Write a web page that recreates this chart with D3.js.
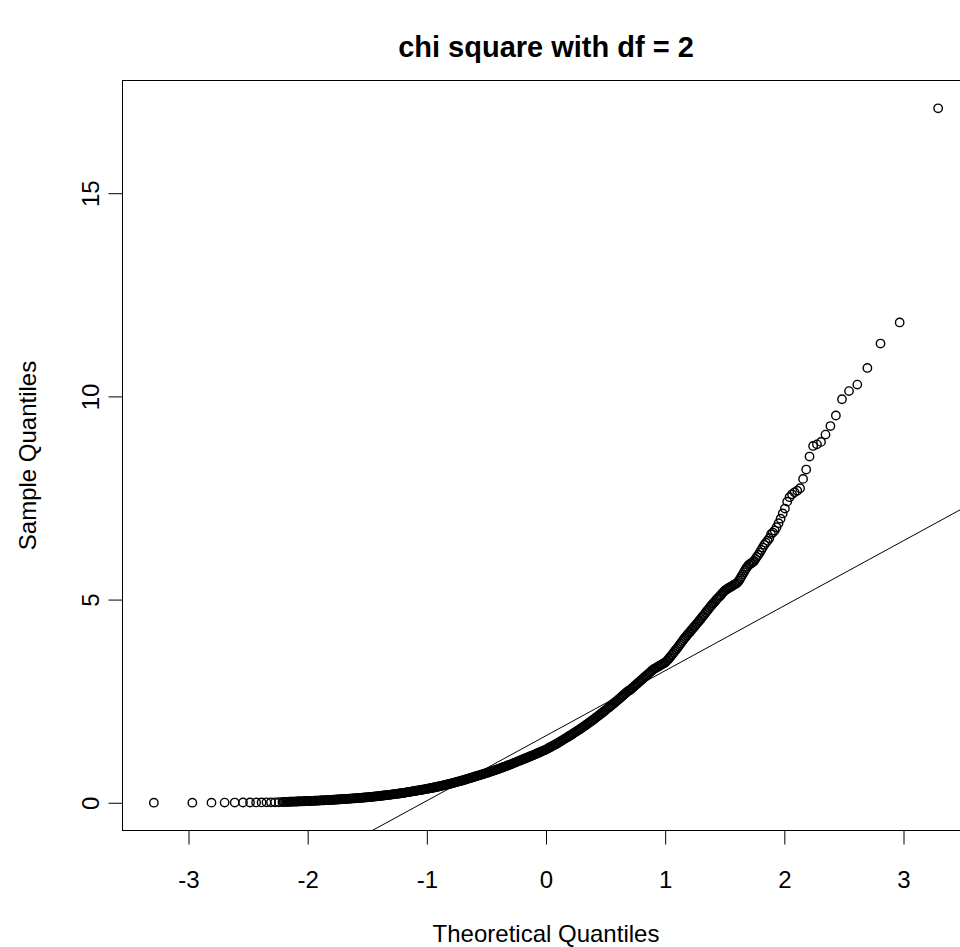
<!DOCTYPE html>
<html>
<head>
<meta charset="utf-8">
<script src="https://cdnjs.cloudflare.com/ajax/libs/d3/7.8.5/d3.min.js"></script>
<style>
  body { margin: 0; background: #fff; }
  svg { display: block; font-family: "Liberation Sans", Arial, sans-serif; }
</style>
</head>
<body>
<div id="chart"></div>
<script>
// theoretical / sample quantiles
// lower tail: separate circles sitting on zero
const lowTheo = [-3.2905, -2.9677, -2.8070, -2.6968, -2.6121, -2.5427, -2.4837, -2.4324, -2.3867, -2.3455, -2.3079, -2.2734, -2.2414, -2.2115];
const lowSample = [0.001, 0.002, 0.003, 0.004, 0.005, 0.006, 0.007, 0.008, 0.009, 0.010, 0.011, 0.012, 0.013, 0.015];

// body of the sample: the dense black band
const bandTheo = [
  -2.20,-2.19,-2.18,-2.17,-2.16,-2.15,-2.14,-2.13,-2.12,-2.11,
  -2.10,-2.09,-2.08,-2.07,-2.06,-2.05,-2.04,-2.03,-2.02,-2.01,
  -2.00,-1.99,-1.98,-1.97,-1.96,-1.95,-1.94,-1.93,-1.92,-1.91,
  -1.90,-1.89,-1.88,-1.87,-1.86,-1.85,-1.84,-1.83,-1.82,-1.81,
  -1.80,-1.79,-1.78,-1.77,-1.76,-1.75,-1.74,-1.73,-1.72,-1.71,
  -1.70,-1.69,-1.68,-1.67,-1.66,-1.65,-1.64,-1.63,-1.62,-1.61,
  -1.60,-1.59,-1.58,-1.57,-1.56,-1.55,-1.54,-1.53,-1.52,-1.51,
  -1.50,-1.49,-1.48,-1.47,-1.46,-1.45,-1.44,-1.43,-1.42,-1.41,
  -1.40,-1.39,-1.38,-1.37,-1.36,-1.35,-1.34,-1.33,-1.32,-1.31,
  -1.30,-1.29,-1.28,-1.27,-1.26,-1.25,-1.24,-1.23,-1.22,-1.21,
  -1.20,-1.19,-1.18,-1.17,-1.16,-1.15,-1.14,-1.13,-1.12,-1.11,
  -1.10,-1.09,-1.08,-1.07,-1.06,-1.05,-1.04,-1.03,-1.02,-1.01,
  -1.00,-0.99,-0.98,-0.97,-0.96,-0.95,-0.94,-0.93,-0.92,-0.91,
  -0.90,-0.89,-0.88,-0.87,-0.86,-0.85,-0.84,-0.83,-0.82,-0.81,
  -0.80,-0.79,-0.78,-0.77,-0.76,-0.75,-0.74,-0.73,-0.72,-0.71,
  -0.70,-0.69,-0.68,-0.67,-0.66,-0.65,-0.64,-0.63,-0.62,-0.61,
  -0.60,-0.59,-0.58,-0.57,-0.56,-0.55,-0.54,-0.53,-0.52,-0.51,
  -0.50,-0.49,-0.48,-0.47,-0.46,-0.45,-0.44,-0.43,-0.42,-0.41,
  -0.40,-0.39,-0.38,-0.37,-0.36,-0.35,-0.34,-0.33,-0.32,-0.31,
  -0.30,-0.29,-0.28,-0.27,-0.26,-0.25,-0.24,-0.23,-0.22,-0.21,
  -0.20,-0.19,-0.18,-0.17,-0.16,-0.15,-0.14,-0.13,-0.12,-0.11,
  -0.10,-0.09,-0.08,-0.07,-0.06,-0.05,-0.04,-0.03,-0.02,-0.01,
  0.00,0.01,0.02,0.03,0.04,0.05,0.06,0.07,0.08,0.09,
  0.10,0.11,0.12,0.13,0.14,0.15,0.16,0.17,0.18,0.19,
  0.20,0.21,0.22,0.23,0.24,0.25,0.26,0.27,0.28,0.29,
  0.30,0.31,0.32,0.33,0.34,0.35,0.36,0.37,0.38,0.39,
  0.40,0.41,0.42,0.43,0.44,0.45,0.46,0.47,0.48,0.49,
  0.50,0.51,0.52,0.53,0.54,0.55,0.56,0.57,0.58,0.59,
  0.60,0.61,0.62,0.63,0.64,0.65,0.66,0.67,0.68,0.69,
  0.70,0.71,0.72,0.73,0.74,0.75,0.76,0.77,0.78,0.79,
  0.80,0.81,0.82,0.83,0.84,0.85,0.86,0.87,0.88,0.89,
  0.90,0.91,0.92,0.93,0.94,0.95,0.96,0.97,0.98,0.99,
  1.00,1.01,1.02,1.03,1.04,1.05,1.06,1.07,1.08,1.09,
  1.10,1.11,1.12,1.13,1.14,1.15,1.16,1.17,1.18,1.19,
  1.20,1.21,1.22,1.23,1.24,1.25,1.26,1.27,1.28,1.29,
  1.30,1.31,1.32,1.33,1.34,1.35,1.36,1.37,1.38,1.39,
  1.40,1.41,1.42,1.43,1.44,1.45,1.46,1.47,1.48,1.49,
  1.50,1.51,1.52,1.53,1.54,1.55,1.56,1.57,1.58,1.59,
  1.60,1.61,1.62,1.63,1.64,1.65,1.66,1.67,1.68,1.69,
  1.70,1.71,1.72,1.73,1.74
];
const bandSample = [
  0.020,0.021,0.022,0.023,0.024,0.025,0.026,0.027,0.028,0.029,
  0.030,0.031,0.032,0.033,0.034,0.035,0.036,0.037,0.038,0.039,
  0.040,0.042,0.043,0.045,0.046,0.048,0.049,0.051,0.052,0.054,
  0.055,0.057,0.058,0.060,0.061,0.063,0.064,0.066,0.067,0.069,
  0.070,0.072,0.074,0.076,0.078,0.080,0.082,0.084,0.086,0.088,
  0.090,0.092,0.094,0.096,0.098,0.100,0.102,0.104,0.106,0.108,
  0.110,0.112,0.115,0.117,0.120,0.122,0.125,0.127,0.130,0.132,
  0.135,0.138,0.141,0.144,0.147,0.150,0.153,0.156,0.159,0.162,
  0.165,0.168,0.172,0.175,0.179,0.182,0.186,0.189,0.193,0.196,
  0.200,0.204,0.208,0.212,0.216,0.220,0.224,0.228,0.232,0.236,
  0.240,0.245,0.250,0.255,0.260,0.265,0.270,0.275,0.280,0.285,
  0.290,0.295,0.300,0.305,0.310,0.315,0.320,0.325,0.330,0.335,
  0.340,0.346,0.352,0.358,0.364,0.370,0.376,0.382,0.388,0.394,
  0.400,0.407,0.414,0.421,0.428,0.435,0.442,0.449,0.456,0.463,
  0.470,0.478,0.486,0.494,0.502,0.510,0.518,0.526,0.534,0.542,
  0.550,0.559,0.568,0.577,0.586,0.595,0.604,0.613,0.622,0.631,
  0.640,0.649,0.658,0.667,0.676,0.685,0.694,0.703,0.712,0.721,
  0.730,0.740,0.750,0.760,0.770,0.780,0.790,0.800,0.810,0.820,
  0.830,0.841,0.852,0.863,0.874,0.885,0.896,0.907,0.918,0.929,
  0.940,0.952,0.964,0.976,0.988,1.000,1.012,1.024,1.036,1.048,
  1.060,1.072,1.084,1.096,1.108,1.120,1.132,1.144,1.156,1.168,
  1.180,1.193,1.206,1.219,1.232,1.245,1.258,1.271,1.284,1.297,
  1.310,1.326,1.342,1.358,1.374,1.390,1.406,1.422,1.438,1.454,
  1.470,1.488,1.506,1.524,1.542,1.560,1.578,1.596,1.614,1.632,
  1.650,1.669,1.688,1.707,1.726,1.745,1.764,1.783,1.802,1.821,
  1.840,1.861,1.882,1.903,1.924,1.945,1.966,1.987,2.008,2.029,
  2.050,2.073,2.096,2.119,2.142,2.165,2.188,2.211,2.234,2.257,
  2.280,2.304,2.328,2.352,2.376,2.400,2.424,2.448,2.472,2.496,
  2.520,2.546,2.572,2.598,2.624,2.650,2.676,2.702,2.728,2.754,
  2.760,2.786,2.812,2.838,2.864,2.890,2.916,2.942,2.968,2.994,
  3.020,3.046,3.072,3.098,3.124,3.150,3.176,3.202,3.228,3.254,
  3.280,3.297,3.314,3.331,3.348,3.365,3.382,3.400,3.420,3.435,
  3.450,3.480,3.510,3.545,3.580,3.615,3.650,3.690,3.730,3.765,
  3.800,3.840,3.880,3.920,3.960,4.000,4.040,4.075,4.110,4.145,
  4.180,4.210,4.250,4.280,4.320,4.350,4.390,4.420,4.460,4.490,
  4.530,4.570,4.600,4.640,4.680,4.720,4.750,4.790,4.830,4.860,
  4.900,4.930,4.960,5.000,5.030,5.060,5.090,5.120,5.160,5.190,
  5.220,5.240,5.260,5.280,5.300,5.310,5.330,5.350,5.370,5.380,
  5.400,5.430,5.470,5.520,5.570,5.620,5.670,5.720,5.770,5.810,
  5.850,5.870,5.890,5.910,5.930
];

// upper tail: the loose circles climbing to the top right
const highTheo = [1.7457, 1.7572, 1.7690, 1.7810, 1.7934, 1.8059, 1.8188, 1.8320, 1.8455, 1.8594,
  1.8737, 1.8883, 1.9034, 1.9190, 1.9350, 1.9515, 1.9686, 1.9863, 2.0047, 2.0237,
  2.0435, 2.0642, 2.0858, 2.1084, 2.1321, 2.1571, 2.1835, 2.2115, 2.2414, 2.2734,
  2.3079, 2.3455, 2.3867, 2.4324, 2.4837, 2.5427, 2.6121, 2.6968, 2.8070, 2.9677, 3.2905];
const highSample = [5.95, 6.00, 6.05, 6.10, 6.16, 6.22, 6.28, 6.35, 6.40, 6.45,
  6.51, 6.61, 6.65, 6.70, 6.78, 6.88, 6.99, 7.12, 7.24, 7.41,
  7.52, 7.59, 7.64, 7.68, 7.74, 7.97, 8.20, 8.52, 8.78, 8.82,
  8.88, 9.06, 9.27, 9.53, 9.93, 10.13, 10.29, 10.70, 11.30, 11.82, 17.09];

// qqline: passes through the sample quartiles
const lineTheo = [-0.6745, 0.6745];
const lineSample = [0.571, 2.729];

const xTicks = [-3, -2, -1, 0, 1, 2, 3];
const yTicks = [0, 5, 10, 15];

const width = 960, height = 947;
const plot = { left: 122.5, right: 969.5, top: 80.5, bottom: 830.5 };

const theo = lowTheo.concat(bandTheo, highTheo);
const sample = lowSample.concat(bandSample, highSample);
if (theo.length !== sample.length) console.error("length mismatch", theo.length, sample.length);
const points = theo.map(function(t, i) { return { t: t, s: sample[i] }; });

// R pads the data range by 4% on each side
function padded(ext) {
  let p = (ext[1] - ext[0]) * 0.04;
  return [ext[0] - p, ext[1] + p];
}

let x = d3.scaleLinear().domain(padded(d3.extent(theo))).range([plot.left, plot.right]);
let y = d3.scaleLinear().domain(padded(d3.extent(sample))).range([plot.bottom, plot.top]);

let svg = d3.select("#chart")
  .append("svg")
  .attr("width", width)
  .attr("height", height);

svg.append("rect").attr("width", width).attr("height", height).attr("fill", "#fff");

svg.append("clipPath").attr("id", "plotclip")
  .append("rect")
  .attr("x", plot.left).attr("y", plot.top)
  .attr("width", plot.right - plot.left).attr("height", plot.bottom - plot.top);

// points
svg.append("g")
  .attr("clip-path", "url(#plotclip)")
  .selectAll("circle")
  .data(points)
  .enter()
  .append("circle")
  .attr("cx", function(d) { return x(d.t); })
  .attr("cy", function(d) { return y(d.s); })
  .attr("r", 4.2)
  .attr("fill", "none")
  .attr("stroke", "#000")
  .attr("stroke-width", 1.4);

// reference line
let slope = (lineSample[1] - lineSample[0]) / (lineTheo[1] - lineTheo[0]);
let intercept = lineSample[0] - slope * lineTheo[0];
let xd = x.domain();
svg.append("line")
  .attr("clip-path", "url(#plotclip)")
  .attr("x1", x(xd[0])).attr("y1", y(intercept + slope * xd[0]))
  .attr("x2", x(xd[1])).attr("y2", y(intercept + slope * xd[1]))
  .attr("stroke", "#000")
  .attr("stroke-width", 1);

// axes
let xAxis = svg.append("g")
  .attr("transform", `translate(0,${plot.bottom})`)
  .call(d3.axisBottom(x).tickValues(xTicks).tickSize(14).tickSizeOuter(0).tickPadding(26)
    .tickFormat(function(d) { return String(d); }));
xAxis.select(".domain").remove();
xAxis.attr("font-size", 24).attr("font-family", "'Liberation Sans', Arial, sans-serif");
xAxis.selectAll("line").attr("stroke", "#000");
xAxis.selectAll("text").attr("fill", "#000");

let yAxis = svg.append("g")
  .attr("transform", `translate(${plot.left},0)`)
  .call(d3.axisLeft(y).tickValues(yTicks).tickSize(14).tickSizeOuter(0)
    .tickFormat(function(d) { return String(d); }));
yAxis.select(".domain").remove();
yAxis.attr("font-size", 24).attr("font-family", "'Liberation Sans', Arial, sans-serif");
yAxis.selectAll("line").attr("stroke", "#000");
yAxis.selectAll("text")
  .attr("fill", "#000")
  .attr("x", 0)
  .attr("y", -24)
  .attr("dy", 0)
  .attr("transform", "rotate(-90)")
  .style("text-anchor", "middle");

// box
svg.append("rect")
  .attr("x", plot.left).attr("y", plot.top)
  .attr("width", plot.right - plot.left).attr("height", plot.bottom - plot.top)
  .attr("fill", "none")
  .attr("stroke", "#000")
  .attr("stroke-width", 1);

// titles
let midX = (plot.left + plot.right) / 2;
let midY = (plot.top + plot.bottom) / 2;

svg.append("text")
  .attr("x", midX).attr("y", 57)
  .style("text-anchor", "middle")
  .style("font-size", "29px")
  .style("font-weight", 700)
  .text("chi square with df = 2");

svg.append("text")
  .attr("x", midX).attr("y", 942)
  .style("text-anchor", "middle")
  .style("font-size", "24px")
  .text("Theoretical Quantiles");

svg.append("text")
  .attr("transform", `translate(36,${midY}) rotate(-90)`)
  .style("text-anchor", "middle")
  .style("font-size", "24px")
  .text("Sample Quantiles");
</script>
</body>
</html>
